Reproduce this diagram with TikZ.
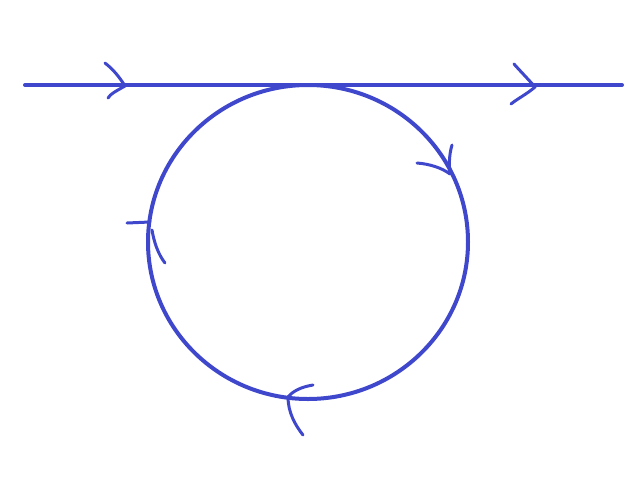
\documentclass[tikz,border=0pt]{standalone}
\usepackage{tikz}
\usetikzlibrary{positioning}
\definecolor{penblue}{RGB}{63,72,204}

\begin{document}
\begin{tikzpicture}[x=1pt,y=-1pt,line cap=round,line join=round]
\tikzset{wire/.style={penblue,line width=4pt},
  barb/.style={penblue,line width=3pt}}
\useasboundingbox (0,0) rectangle (640,480);
%%
\coordinate (L) at (25,85);
\coordinate (R) at (622,85);
\coordinate (O) at (308,242);
\draw [wire] (L) -- (R);
\draw [wire] (O) ellipse (160pt and 157pt);
% arrowheads on the line
\coordinate (t1) at (125,86);
\draw [barb] (105,63) ..controls (114,70) and (120,78) .. (t1) ..controls (118,90) and (110,94) .. (108,98);
\coordinate (t2) at (535,87);
\draw [barb] (514,64) ..controls (522,73) and (529,80) .. (t2) ..controls (527,94) and (517,99) .. (511,104);
% arrowheads on the circle
\coordinate (t3) at (450,174);
\draw [barb] (417,163) ..controls (430,164) and (442,168) .. (t3);
\draw [barb] (452,145) ..controls (449,155) and (449,165) .. (t3);
\coordinate (t4) at (150,222);
\draw [barb] (127,223) -- (t4);
\draw [barb] (152,230) ..controls (154,242) and (158,254) .. (165,263);
\coordinate (t5) at (288,397);
\draw [barb] (313,385) ..controls (301,387) and (293,391) .. (t5);
\draw [barb] (t5) ..controls (288,412) and (295,425) .. (303,435);
%
\end{tikzpicture}
\end{document}
